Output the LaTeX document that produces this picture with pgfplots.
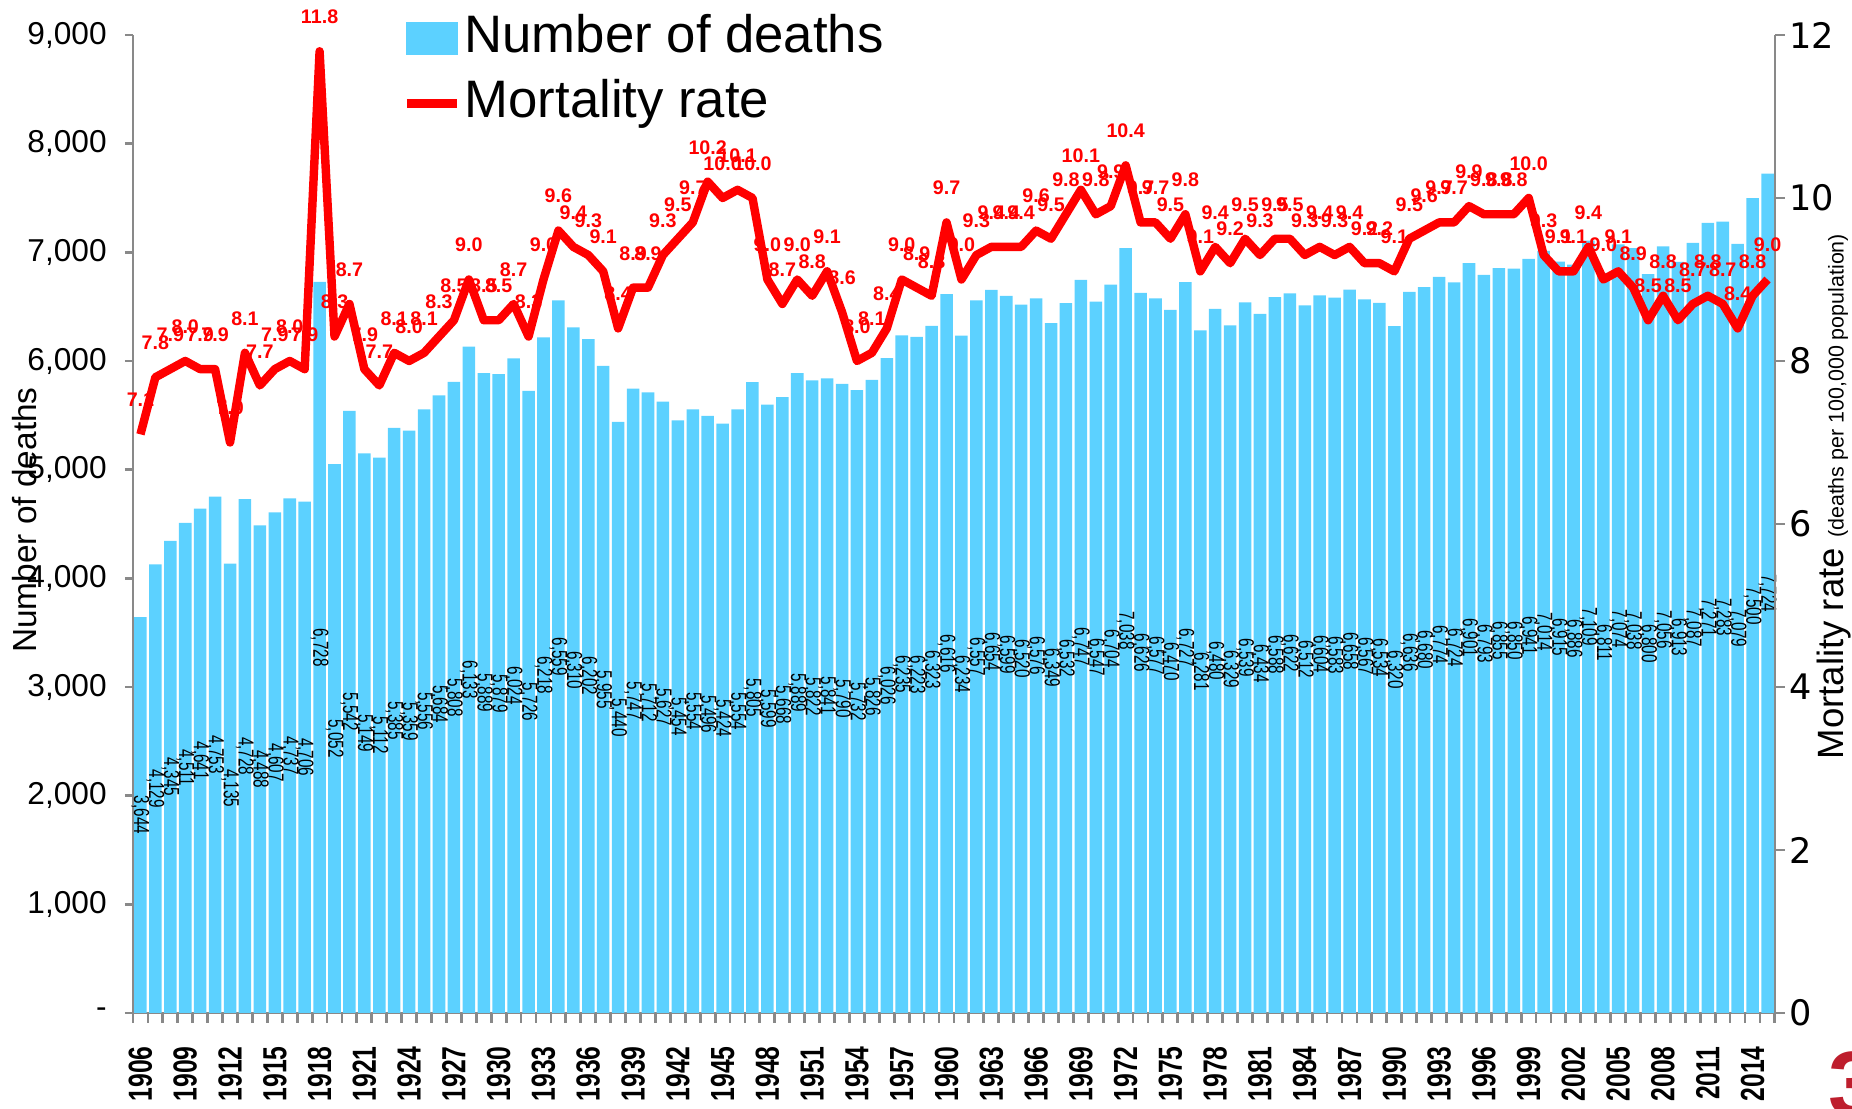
\documentclass[border=0pt]{standalone}
\usepackage{fontspec}
\setmainfont{Liberation Sans}
\newfontfamily\dejavu{DejaVu Sans}
\usepackage{graphicx}
\usepackage{pgfplots}
\usepackage{pgfplotstable}
\pgfplotsset{compat=1.18}
\definecolor{barblue}{RGB}{92,209,255}
\definecolor{axgray}{RGB}{137,137,137}
\definecolor{ratered}{RGB}{255,0,0}
\definecolor{darkred}{RGB}{190,30,45}

\pgfplotstableread{
year deaths rate
1906 3644 7.1
1907 4129 7.8
1908 4345 7.9
1909 4511 8.0
1910 4641 7.9
1911 4753 7.9
1912 4135 7.0
1913 4728 8.1
1914 4488 7.7
1915 4607 7.9
1916 4737 8.0
1917 4706 7.9
1918 6728 11.8
1919 5052 8.3
1920 5542 8.7
1921 5149 7.9
1922 5112 7.7
1923 5385 8.1
1924 5359 8.0
1925 5556 8.1
1926 5684 8.3
1927 5808 8.5
1928 6133 9.0
1929 5889 8.5
1930 5879 8.5
1931 6024 8.7
1932 5726 8.3
1933 6218 9.0
1934 6559 9.6
1935 6310 9.4
1936 6202 9.3
1937 5955 9.1
1938 5440 8.4
1939 5747 8.9
1940 5712 8.9
1941 5627 9.3
1942 5454 9.5
1943 5554 9.7
1944 5496 10.2
1945 5424 10.0
1946 5554 10.1
1947 5805 10.0
1948 5599 9.0
1949 5668 8.7
1950 5889 9.0
1951 5822 8.8
1952 5841 9.1
1953 5790 8.6
1954 5732 8.0
1955 5826 8.1
1956 6026 8.4
1957 6235 9.0
1958 6223 8.9
1959 6323 8.8
1960 6616 9.7
1961 6234 9.0
1962 6557 9.3
1963 6654 9.4
1964 6599 9.4
1965 6520 9.4
1966 6576 9.6
1967 6349 9.5
1968 6532 9.8
1969 6747 10.1
1970 6547 9.8
1971 6704 9.9
1972 7038 10.4
1973 6626 9.7
1974 6577 9.7
1975 6470 9.5
1976 6727 9.8
1977 6281 9.1
1978 6480 9.4
1979 6329 9.2
1980 6539 9.5
1981 6434 9.3
1982 6588 9.5
1983 6622 9.5
1984 6512 9.3
1985 6604 9.4
1986 6583 9.3
1987 6658 9.4
1988 6567 9.2
1989 6534 9.2
1990 6320 9.1
1991 6636 9.5
1992 6680 9.6
1993 6774 9.7
1994 6724 9.7
1995 6901 9.9
1996 6793 9.8
1997 6855 9.8
1998 6850 9.8
1999 6941 10.0
2000 7014 9.3
2001 6915 9.1
2002 6886 9.1
2003 7109 9.4
2004 6811 9.0
2005 7074 9.1
2006 7038 8.9
2007 6800 8.5
2008 7056 8.8
2009 6913 8.5
2010 7087 8.7
2011 7271 8.8
2012 7283 8.7
2013 7079 8.4
2014 7500 8.8
2015 7724 9.0
}\data

\begin{document}
\begin{tikzpicture}
\path[use as bounding box] (-1.33cm,-0.96cm) rectangle (17.19cm,10.13cm);
\begin{axis}[
  at={(0,0)}, anchor=south west,
  width=16.42cm, height=9.78cm, scale only axis,
  xmin=1905.5, xmax=2015.5, ymin=0, ymax=9000,
  axis x line=bottom, axis y line=left,
  axis line style={-, draw=axgray, line width=0.8pt},
  tick align=outside,
  every tick/.style={draw=axgray, line width=0.8pt},
  major tick length=2.3pt,
  minor tick length=2.8pt,
  xtick={1906,1909,...,2014},
  minor xtick={1905.5,1906.5,...,2015.5},
  x tick style={draw=none},
  minor x tick style={draw=axgray, line width=0.8pt},
  xticklabel={\scalebox{0.74}[1]{\bfseries\pgfmathprintnumber[1000 sep={},assume math mode=true]{\tick}}},
  xticklabel style={rotate=90, anchor=east, inner sep=0pt, font=\fontsize{9.5}{9.5}\selectfont},
  xticklabel shift=7pt,
  ytick={0,1000,...,9000},
  yticklabels={{-\hspace{6.5pt}},{1,000},{2,000},{3,000},{4,000},{5,000},{6,000},{7,000},{8,000},{9,000}},
  yticklabel style={font=\fontsize{9}{10}\selectfont, inner sep=0pt},
  yticklabel shift=5pt,
  ylabel={Number of deaths},
  ylabel style={at={(axis description cs:-0.066,0.504)}, anchor=center, font=\fontsize{9.5}{11}\selectfont},
  clip=false,
]
\addplot[ybar, bar width=0.84, fill=barblue, draw=none] table[x=year, y=deaths]{\data};
\addplot[draw=none, mark=none, point meta=explicit,
  nodes near coords={\scalebox{0.7}[1]{\pgfmathprintnumber[1000 sep={,},assume math mode=true]{\pgfplotspointmeta}}},
  every node near coord/.append style={rotate=-90, anchor=center, inner sep=0pt, font=\fontsize{6.2}{6.2}\selectfont, text=black}]
  table[x=year, y expr=\thisrow{deaths}/2, meta=deaths]{\data};
\end{axis}

\begin{axis}[
  at={(0,0)}, anchor=south west,
  width=16.42cm, height=9.78cm, scale only axis,
  xmin=1905.5, xmax=2015.5, ymin=0, ymax=12,
  axis x line=none, axis y line=right,
  axis line style={-, draw=axgray, line width=0.8pt},
  tick align=outside,
  every tick/.style={draw=axgray, line width=0.8pt},
  major tick length=2.8pt,
  ytick={0,2,...,12},
  /pgf/number format/assume math mode=true,
  yticklabel style={font=\dejavu\fontsize{10}{12}\selectfont, inner sep=0pt},
  yticklabel shift=1pt,
  ylabel={\fontsize{10.4}{12}\selectfont Mortality rate {\fontsize{6.1}{8}\selectfont(deaths per 100,000 population)}},
  ylabel style={at={(axis description cs:1.036,0.528)}, anchor=center, rotate=0},
  clip=false,
  legend style={at={(axis description cs:0.1638,1.026)}, anchor=north west, draw=none, fill=none,
    font=\fontsize{15}{18}\selectfont, inner sep=0pt, row sep=2.5pt,
    nodes={inner sep=1pt, text height=11pt, text depth=3pt}},
  legend cell align=left,
]
\addlegendimage{legend image code/.code={\fill[barblue] (0cm,-0.16cm) rectangle (0.5cm,0.16cm);}}
\addlegendentry{Number of deaths}
\addplot[ratered, line width=2.4pt, mark=none, line join=round, point meta=explicit,
  nodes near coords={\pgfmathprintnumber[fixed,fixed zerofill,precision=1,assume math mode=true]{\pgfplotspointmeta}},
  every node near coord/.append style={anchor=south, inner sep=0pt, yshift=6.6pt, text=ratered, font=\bfseries\fontsize{5.6}{6}\selectfont},
  legend image code/.code={\draw[ratered, line width=2.4pt] (0cm,0cm) -- (0.5cm,0cm);}]
  table[x=year, y=rate, meta=rate]{\data};
\addlegendentry{Mortality rate}
\end{axis}
\node[anchor=north west, inner sep=0pt, text=darkred, font=\bfseries\fontsize{26}{26}\selectfont] at (16.95cm,-0.38cm) {3};
\end{tikzpicture}
\end{document}
